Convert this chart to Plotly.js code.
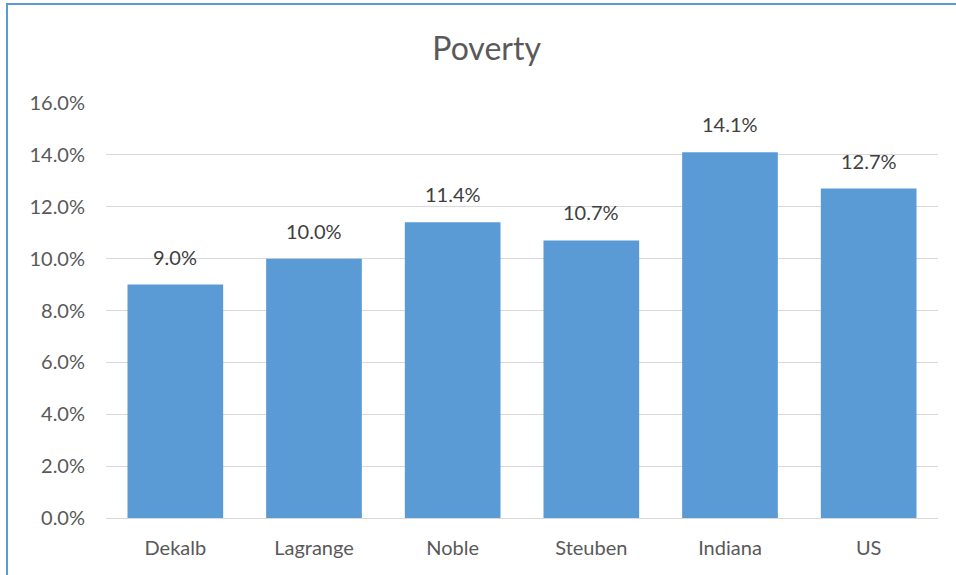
<!DOCTYPE html>
<html>
<head>
<meta charset="utf-8">
<script src="https://cdn.plot.ly/plotly-3.0.1.min.js"></script>
<style>
  html, body { margin: 0; padding: 0; background: #ffffff; }
  #wrap { position: relative; width: 956px; height: 575px; overflow: hidden; }
  #chart { position: absolute; left: 0; top: 0; width: 956px; height: 575px; }
  #frame { position: absolute; left: 6px; top: 3px; width: 1000px; height: 1000px;
           border-left: 2px solid #5B9BD5; border-top: 2px solid #5B9BD5; pointer-events: none; }
</style>
</head>
<body>
<div id="wrap">
  <div id="chart"></div>
  <div id="frame"></div>
</div>
<script>
const categories = ["Dekalb", "Lagrange", "Noble", "Steuben", "Indiana", "US"];
const povertyRate = [0.090, 0.100, 0.114, 0.107, 0.141, 0.127];
const yTickValues = [0, 0.02, 0.04, 0.06, 0.08, 0.10, 0.12, 0.14, 0.16];

const fontFamily = "Lato, 'Open Sans', sans-serif";

const trace = {
  type: "bar",
  x: categories,
  y: povertyRate,
  marker: { color: "#5B9BD5" },
  hoverinfo: "skip"
};

const annotations = categories.map((c, i) => ({
  x: c,
  y: povertyRate[i],
  xref: "x",
  yref: "y",
  text: (povertyRate[i] * 100).toFixed(1) + "%",
  showarrow: false,
  yanchor: "bottom",
  yshift: 14,
  font: { family: fontFamily, size: 20, color: "#404040" }
}));

const layout = {
  width: 956,
  height: 575,
  margin: { l: 106, r: 18, t: 103, b: 57 },
  paper_bgcolor: "rgba(0,0,0,0)",
  plot_bgcolor: "rgba(0,0,0,0)",
  showlegend: false,
  bargap: 0.31,
  title: {
    text: "Poverty",
    x: 0.509,
    xref: "container",
    xanchor: "center",
    y: 0.915,
    yref: "container",
    yanchor: "middle",
    font: { family: fontFamily, size: 32, color: "#595959" }
  },
  xaxis: {
    type: "category",
    showgrid: false,
    showline: false,
    zeroline: false,
    ticks: "",
    ticklabelstandoff: 16,
    tickfont: { family: fontFamily, size: 20, color: "#595959" }
  },
  yaxis: {
    range: [0, 0.16],
    tickvals: yTickValues,
    tickformat: ".1%",
    showgrid: true,
    gridcolor: "#D9D9D9",
    gridwidth: 1,
    zeroline: true,
    zerolinecolor: "#D9D9D9",
    zerolinewidth: 1,
    showline: false,
    ticks: "",
    ticklabelstandoff: 20,
    tickfont: { family: fontFamily, size: 20, color: "#595959" }
  },
  annotations: annotations
};

Plotly.newPlot("chart", [trace], layout, { displayModeBar: false, staticPlot: true });
</script>
</body>
</html>
